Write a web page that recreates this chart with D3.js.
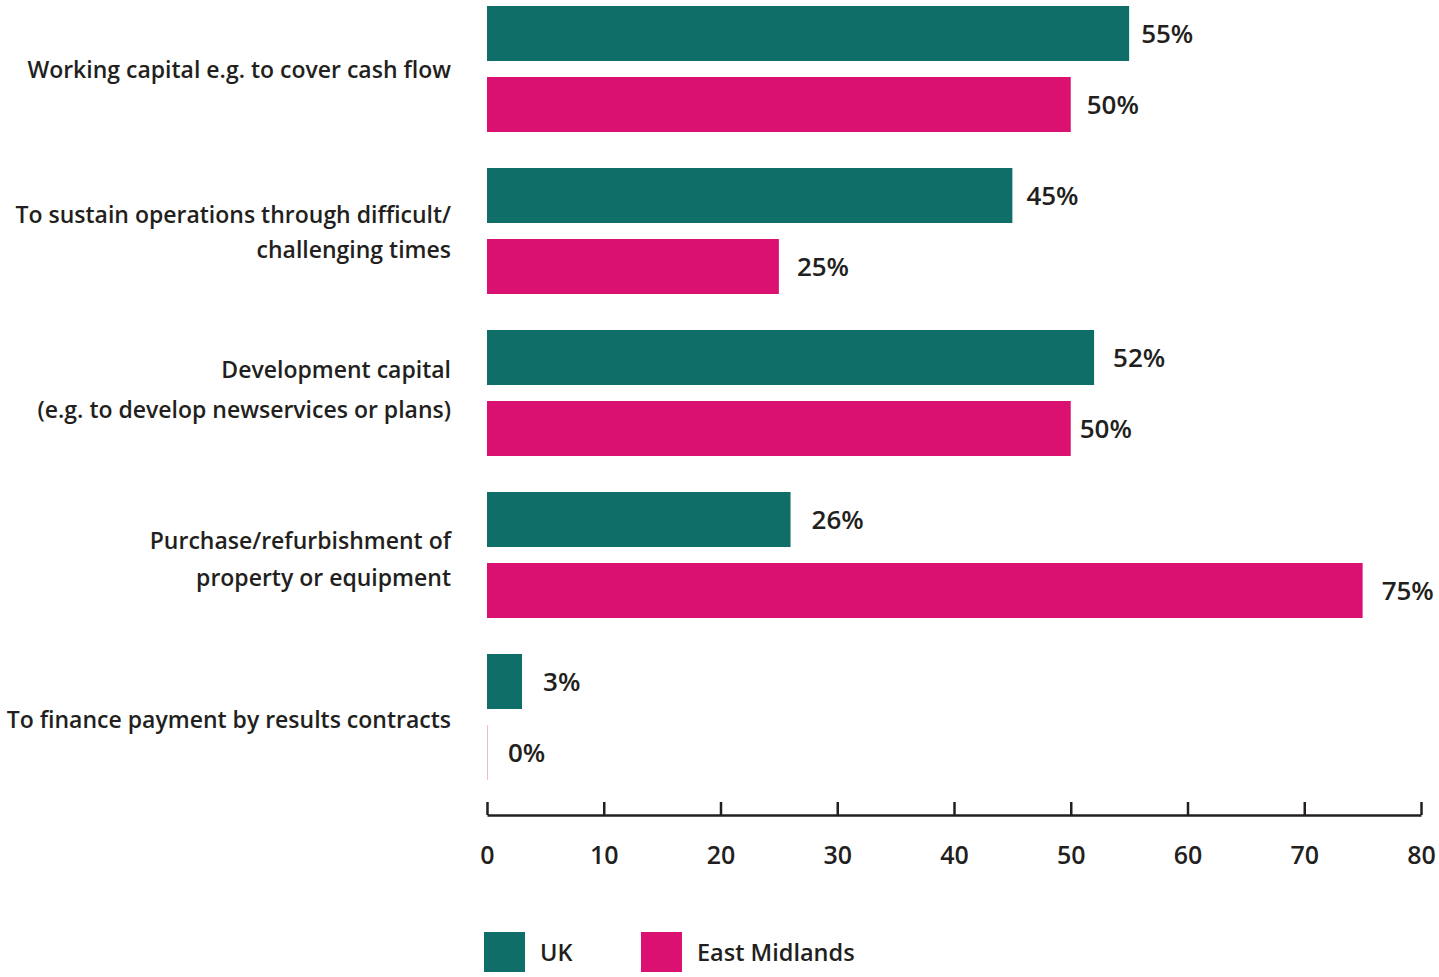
<!DOCTYPE html>
<html>
<head>
<meta charset="utf-8">
<script src="https://cdn.jsdelivr.net/npm/d3@7"></script>
<style>
  html, body { margin: 0; padding: 0; background: #fff; }
  svg { display: block; }
  text { font-family: "Open Sans", Lato, sans-serif; font-weight: 600; fill: #231f20; }
</style>
</head>
<body>
<svg id="chart" width="1439" height="977"></svg>
<script>
// Reasons for seeking finance: UK vs East Midlands (% of respondents)
const categories = [
  ["Working capital e.g. to cover cash flow"],
  ["To sustain operations through difficult/", "challenging times"],
  ["Development capital", "(e.g. to develop newservices or plans)"],
  ["Purchase/refurbishment of", "property or equipment"],
  ["To finance payment by results contracts"]
];
const seriesNames = ["UK", "East Midlands"];
const ukValues = [55, 45, 52, 26, 3];
const eastMidlandsValues = [50, 25, 50, 75, 0];
const xTicks = [0, 10, 20, 30, 40, 50, 60, 70, 80];

const colors = { "UK": "#0f6e68", "East Midlands": "#da1171" };

const svg = d3.select("#chart");

const x = d3.scaleLinear().domain([0, 80]).range([487, 1421]);
const catKeys = categories.map(c => c.join(" "));
const y0 = d3.scaleBand().domain(catKeys).range([6, 780]).paddingInner(36 / 162).paddingOuter(0);
const y1 = d3.scaleBand().domain(seriesNames).range([0, y0.bandwidth()]).paddingInner(16 / 71).paddingOuter(0);

const rows = catKeys.map((k, i) => ({
  key: k,
  lines: categories[i],
  values: [
    { series: "UK", value: ukValues[i] },
    { series: "East Midlands", value: eastMidlandsValues[i] }
  ]
}));

// small horizontal nudges for the value labels
const labelGap = { "UK": [12, 14, 19, 21, 21], "East Midlands": [16, 18, 9, 19, 21] };

const groups = svg.append("g").selectAll("g")
  .data(rows)
  .join("g")
  .attr("transform", d => `translate(0,${y0(d.key)})`);

groups.selectAll("rect")
  .data(d => d.values)
  .join("rect")
  .attr("x", x(0))
  .attr("y", d => y1(d.series))
  .attr("width", d => Math.max(0, x(d.value) - x(0)))
  .attr("height", y1.bandwidth())
  .attr("fill", d => colors[d.series]);

// zero-valued bars still leave a faint hairline at the baseline
groups.selectAll("line.zero")
  .data(d => d.values.filter(v => v.value === 0))
  .join("line")
  .attr("class", "zero")
  .attr("x1", x(0) + 0.5).attr("x2", x(0) + 0.5)
  .attr("y1", d => y1(d.series))
  .attr("y2", d => y1(d.series) + y1.bandwidth())
  .attr("stroke", colors["East Midlands"])
  .attr("stroke-opacity", 0.3)
  .attr("stroke-width", 1);

groups.selectAll("text.val")
  .data((d, i) => d.values.map(v => ({ ...v, i })))
  .join("text")
  .attr("class", "val")
  .attr("x", d => x(d.value) + labelGap[d.series][d.i])
  .attr("y", d => y1(d.series) + y1.bandwidth() / 2)
  .attr("dy", "0.36em")
  .style("font-size", "26px")
  .text(d => d.value + "%");

// category labels, right-aligned against the bars
const lineOffsets = [[1], [-16, 19], [-23, 17], [-14, 23], [3]];
groups.append("text")
  .attr("class", "cat")
  .attr("text-anchor", "end")
  .attr("x", 451)
  .attr("y", y0.bandwidth() / 2)
  .style("font-size", "23px")
  .each(function (d, i) {
    const t = d3.select(this);
    d.lines.forEach((line, j) => {
      t.append("tspan")
        .attr("x", 451)
        .attr("y", y0.bandwidth() / 2 + lineOffsets[i][j])
        .attr("dy", "0.35em")
        .text(line);
    });
  });

// x axis with upward ticks
const axis = svg.append("g").attr("transform", "translate(0,815)");
axis.call(d3.axisBottom(x).tickValues(xTicks).tickSizeInner(-13).tickSizeOuter(0).tickPadding(0));
axis.select(".domain").attr("stroke", "#231f20").attr("stroke-width", 2.5);
axis.selectAll(".tick line").attr("stroke", "#231f20").attr("stroke-width", 2.5);
axis.selectAll(".tick text")
  .attr("y", 40)
  .attr("dy", "0.35em")
  .style("font-size", "25px")
  .style("font-family", "'Open Sans', Lato, sans-serif")
  .style("font-weight", 600)
  .attr("fill", "#231f20");

// legend
const legend = svg.append("g").attr("transform", "translate(0,932)");
const legendX = { "UK": 484, "East Midlands": 641 };
const li = legend.selectAll("g").data(seriesNames).join("g")
  .attr("transform", d => `translate(${legendX[d]},0)`);
li.append("rect").attr("width", 41).attr("height", 40).attr("fill", d => colors[d]);
li.append("text").attr("x", 56).attr("y", 21).attr("dy", "0.35em")
  .style("font-size", "23.5px").text(d => d);
</script>
</body>
</html>
